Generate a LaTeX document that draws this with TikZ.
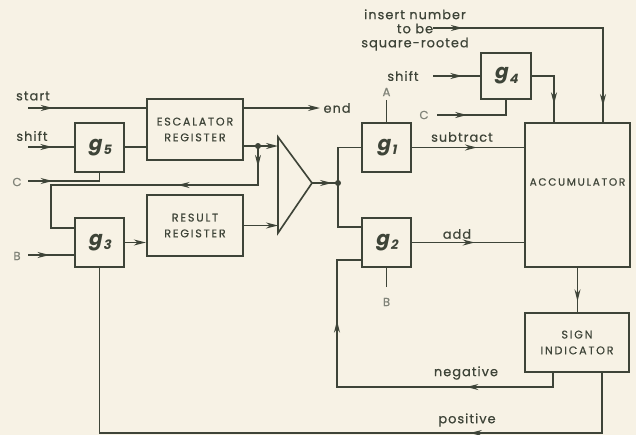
\documentclass[tikz,border=0pt]{standalone}
\usepackage{fontspec}
\usetikzlibrary{positioning,arrows.meta,calc,decorations.markings}
\definecolor{paper}{RGB}{247,242,229}
\definecolor{ink}{RGB}{62,68,56}
\definecolor{faint}{RGB}{128,131,120}
\newfontfamily\lblfont{Poppins}[LetterSpace=8, FakeBold=0.6]
\newfontfamily\capfont{Poppins}[LetterSpace=16, FakeBold=0.5]
\newfontfamily\gatefont{Poppins}[FakeSlant=0.2]
\newcommand{\gname}[1]{{\gatefont\bfseries g\kern1.2pt\raisebox{-0.4ex}{\fontsize{11}{11}\selectfont #1}}}

\begin{document}
\begin{tikzpicture}[
    x=0.3mm, y=-0.3mm,
    >={Stealth[length=3.6mm,width=1.8mm]},
    wire/.style={draw=ink, line width=1.2pt},
    midarrow/.style={postaction={decorate,decoration={markings,mark=at position #1 with {\arrow{>}}}}},
    gatebox/.style={draw=ink, fill=paper, line width=2pt, minimum width=14.7mm, minimum height=14.7mm, inner sep=0pt, text=ink, font=\fontsize{17}{17}\selectfont},
    regtext/.style={inner sep=0pt, align=center, text=ink, font=\capfont\fontsize{9.5}{13.5}\selectfont},
    regbox/.style={regtext, draw=ink, fill=paper, line width=2pt},
    lbl/.style={inner sep=0pt, text=ink, font=\lblfont\fontsize{11}{12}\selectfont},
    pinlbl/.style={inner sep=0pt, text=faint, font=\lblfont\fontsize{10}{10}\selectfont}
  ]
  \fill[paper] (0,0) rectangle (636,435);
  \useasboundingbox (0,0) rectangle (636,435);

  % registers and gates
  \node[regbox, minimum width=28.8mm, minimum height=18.3mm] (esc) at (195,129.5) {ESCALATOR\\REGISTER};
  \node[regbox, minimum width=28.8mm, minimum height=18.3mm] (res) at (195,225.5) {RESULT\\REGISTER};
  \node[gatebox] (g5) at (99.5,147.5) {\gname{5}};
  \node[gatebox] (g3) at (99.5,242.5) {\gname{3}};
  \node[gatebox] (g1) at (386.5,147.5) {\gname{1}};
  \node[gatebox] (g2) at (386.5,242.5) {\gname{2}};
  \node[gatebox, minimum width=15mm, minimum height=13.8mm] (g4) at (506,76) {\gname{4}};
  \node[regbox, minimum width=31.5mm, minimum height=43.2mm] (acc) at (577.5,195) {};
  \node[regtext, font=\capfont\fontsize{9}{13.5}\selectfont] (acclbl) at (577.5,182) {ACCUMULATOR};
  \node[regbox, minimum width=31.2mm, minimum height=17.7mm] (sign) at (577,342.5) {SIGN\\INDICATOR};

  % adder
  \coordinate (amptop) at (278,137);
  \coordinate (ampbot) at (278,233);
  \coordinate (amp) at (312,183);
  \draw[ink, line width=1.4pt, line join=miter] (amptop) -- (amp) -- (ampbot) -- cycle;

  % junctions, bends and free ends
  \coordinate (j1) at (258,146);
  \coordinate (j2) at (338,183);
  \coordinate (fb) at (51,185);
  \coordinate (neg) at (337,387);
  \coordinate (pos) at (99.5,433);
  \coordinate (startin) at (28,108);
  \coordinate (shiftin) at (28,147);
  \coordinate (cin) at (28,181);
  \coordinate (bin) at (28,255);
  \coordinate (endout) at (320,108);
  \coordinate (insin) at (433,28);
  \coordinate (shift4in) at (433,76);
  \coordinate (c4in) at (437,115);
  \coordinate (ain) at (386.5,100);
  \coordinate (bin2) at (386.5,287);

  % left half
  \draw[wire, midarrow=0.21] (startin) -- (startin -| esc.west);
  \draw[wire, ->] (startin -| esc.east) -- (endout);
  \draw[wire, midarrow=0.53] (shiftin) -- (shiftin -| g5.west);
  \draw[wire] (shiftin -| g5.east) -- (shiftin -| esc.west);
  \draw[wire, midarrow=0.31] (cin) -| (g5.south);
  \draw[wire, midarrow=0.47] (bin) -- (bin -| g3.west);
  \draw[wire, ->] (g3.east) -- (g3.east -| res.west);
  \draw[wire, ->] (j1 -| esc.east) -- (j1) -- (j1 -| amptop);
  \draw[wire, midarrow=0.067, midarrow=0.383] (j1) |- (fb) |- ($(g3.west)+(0,-14.5)$);
  \draw[wire, ->] (res.east) -- (res.east -| amptop);

  % right half
  \draw[wire, midarrow=0.77] (amp) -- (j2);
  \draw[wire] (j2) |- (g1.west);
  \draw[wire] (j2) |- ($(g2.west)+(0,-15.5)$);
  \draw[wire] (ain) -- (g1.north);
  \draw[wire] (bin2) -- (g2.south);
  \draw[wire, midarrow=0.58] (g1.east) -- (g1.east -| acc.west);
  \draw[wire, midarrow=0.56] (g2.east) -- (g2.east -| acc.west);
  \draw[wire, midarrow=0.113, midarrow=0.94] (insin) -| ($(acc.north)+(25.5,0)$);
  \draw[wire, midarrow=0.625] (shift4in) -- (g4.west);
  \draw[wire, midarrow=0.36] (c4in) -| (g4.south);
  \draw[wire, midarrow=0.74] (g4.east) -| ($(acc.north)+(-23.5,0)$);
  \draw[wire, midarrow=0.76] (acc.south) -- (acc.south |- sign.north);
  \draw[wire, midarrow=0.264, midarrow=0.778] ($(sign.south)+(-24,0)$) |- (neg) |- ($(g2.west)+(0,17.5)$);
  \draw[wire, midarrow=0.264] ($(sign.south)+(25,0)$) |- (pos) -- (g3.south);

  \fill[ink] (j1) circle (0.9mm);
  \fill[ink] (j2) circle (0.9mm);

  % labels
  \node[lbl] (startlbl) at (33,96) {start};
  \node[lbl] (shiftlbl) at (32,136) {shift};
  \node[pinlbl] (clbl) at (17,182) {C};
  \node[pinlbl] (blbl) at (17,256) {B};
  \node[lbl, right=1mm of endout] (endlbl) {end};
  \node[lbl, align=center] (inslbl) at (415,30) {insert number\\to be\hspace*{7mm}\\square-rooted};
  \node[lbl] (shift4lbl) at (403,76) {shift};
  \node[pinlbl] (albl) at (386.5,92) {A};
  \node[pinlbl] (c4lbl) at (424,115) {C};
  \node[lbl] (sublbl) at (462,137) {subtract};
  \node[lbl] (addlbl) at (457,234) {add};
  \node[pinlbl] (b2lbl) at (386.5,302) {B};
  \node[lbl] (neglbl) at (466,373) {negative};
  \node[lbl] (poslbl) at (467,420) {positive};
\end{tikzpicture}
\end{document}
